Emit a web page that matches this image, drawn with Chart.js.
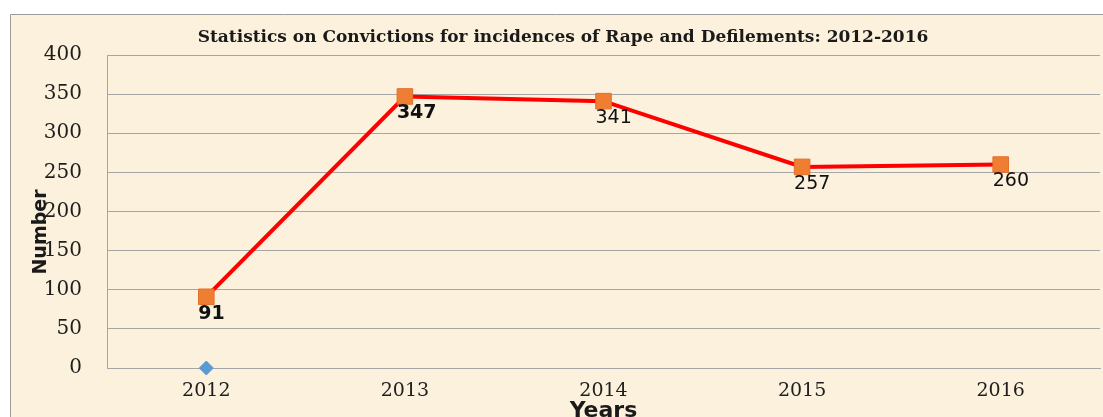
<!DOCTYPE html>
<html>
<head>
<meta charset="utf-8">
<script src="https://cdn.jsdelivr.net/npm/chart.js@4"></script>
<style>
  html, body { margin: 0; padding: 0; background: #fff; }
  #wrap { width: 1103px; height: 417px; position: relative; }
</style>
</head>
<body>
<div id="wrap"><canvas id="chart"></canvas></div>
<script>
const years = ["2012", "2013", "2014", "2015", "2016"];
const convictions = [91, 347, 341, 257, 260];
const baseSeries = [0, null, null, null, null];
const boldLabels = [true, true, false, false, false];
const yTicks = [0, 50, 100, 150, 200, 250, 300, 350, 400];

const titleText = "Statistics on Convictions for incidences of Rape and Defilements: 2012-2016";

// parchment background, frame, title and axis titles
const decor = {
    id: 'decor',
    beforeDraw(chart) {
        const ctx = chart.ctx;
        ctx.save();
        ctx.fillStyle = '#ffffff';
        ctx.fillRect(0, 0, chart.width, chart.height);
        ctx.fillStyle = '#fbf1dc';
        ctx.fillRect(10, 14, chart.width - 10, chart.height - 14);
        ctx.strokeStyle = '#9c9c9c';
        ctx.lineWidth = 1;
        ctx.beginPath();
        ctx.moveTo(10.5, chart.height);
        ctx.lineTo(10.5, 14.5);
        ctx.lineTo(chart.width, 14.5);
        ctx.stroke();
        ctx.restore();
    },
    afterDraw(chart) {
        const ctx = chart.ctx;
        const area = chart.chartArea;
        ctx.save();
        ctx.fillStyle = '#1a1a1a';
        ctx.textAlign = 'center';
        ctx.textBaseline = 'middle';
        ctx.font = 'bold 17px "DejaVu Serif"';
        ctx.fillText(titleText, 563, 38);

        ctx.font = 'bold 22px "DejaVu Sans"';
        ctx.textBaseline = 'top';
        ctx.fillText('Years', (area.left + area.right) / 2, 400);

        ctx.translate(41, 232);
        ctx.rotate(-Math.PI / 2);
        ctx.textBaseline = 'middle';
        ctx.font = 'bold 19px "DejaVu Sans"';
        ctx.fillText('Number', 0, 0);
        ctx.restore();
    }
};

const valueLabels = {
    id: 'valueLabels',
    afterDatasetsDraw(chart) {
        const ctx = chart.ctx;
        const meta = chart.getDatasetMeta(0);
        ctx.save();
        ctx.fillStyle = '#111';
        ctx.textAlign = 'left';
        ctx.textBaseline = 'middle';
        meta.data.forEach((pt, i) => {
            ctx.font = (boldLabels[i] ? 'bold ' : '') + '19px "DejaVu Sans"';
            ctx.fillText(String(convictions[i]), pt.x - 8, pt.y + 17);
        });
        ctx.restore();
    }
};

new Chart(document.getElementById('chart'), {
    type: 'line',
    data: {
        labels: years,
        datasets: [{
            label: 'Convictions',
            data: convictions,
            borderColor: '#ff0000',
            borderWidth: 4,
            pointStyle: 'rect',
            pointRadius: 11,
            pointHoverRadius: 11,
            pointBackgroundColor: '#f07e32',
            pointBorderColor: '#e0702a',
            pointBorderWidth: 1,
            tension: 0
        }, {
            label: 'Years',
            data: baseSeries,
            showLine: false,
            clip: false,
            pointStyle: 'rectRot',
            pointRadius: 7,
            pointBackgroundColor: '#5b9bd5',
            pointBorderColor: '#5b9bd5'
        }]
    },
    options: {
        responsive: true,
        maintainAspectRatio: false,
        animation: false,
        layout: { autoPadding: false, padding: { top: 55, right: 3, bottom: 0, left: 0 } },
        plugins: {
            legend: { display: false },
            title: { display: false },
            tooltip: { enabled: false }
        },
        scales: {
            x: {
                offset: true,
                grid: { display: false, drawTicks: false },
                border: { display: true, color: '#a6a6a6' },
                ticks: {
                    padding: 12,
                    color: '#1e1e1e',
                    font: { family: 'DejaVu Serif', size: 19 }
                },
                afterFit(scale) {
                    scale.height = 49;
                    scale.paddingLeft = 0;
                    scale.paddingRight = 0;
                }
            },
            y: {
                min: 0,
                max: 400,
                afterBuildTicks(scale) { scale.ticks = yTicks.map(v => ({ value: v })); },
                grid: { color: '#a6a6a6', lineWidth: 1, drawTicks: false },
                border: { display: true, color: '#a6a6a6' },
                ticks: {
                    padding: 25,
                    color: '#1e1e1e',
                    font: { family: 'DejaVu Serif', size: 20 }
                },
                afterFit(scale) { scale.width = 107; }
            }
        }
    },
    plugins: [decor, valueLabels]
});
</script>
</body>
</html>
